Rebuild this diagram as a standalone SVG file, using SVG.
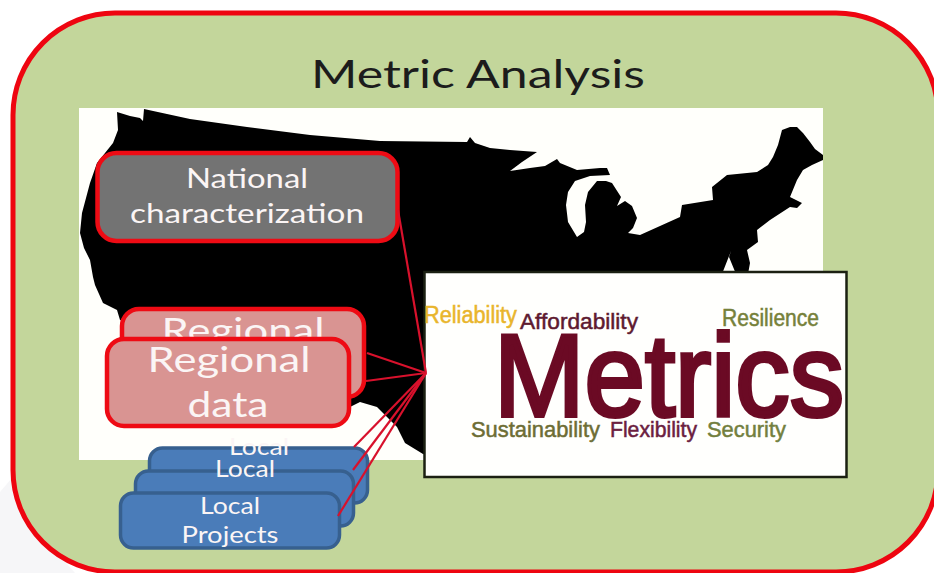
<svg xmlns="http://www.w3.org/2000/svg" width="934" height="573" viewBox="0 0 934 573">
<defs><filter id="soft" x="-2%" y="-2%" width="104%" height="104%"><feGaussianBlur stdDeviation="0.7"/></filter></defs>
<style>
.lb{font-family:"Lato","Open Sans","Liberation Sans",sans-serif;fill:#fbf5f5;text-anchor:middle}
.w{font-family:"Liberation Sans",Arial,sans-serif;stroke-width:.5}
.red{stroke:#ee0b14;stroke-width:4.5}
.reg{fill:#d99492}
.blue{fill:#4a7cb9;stroke:#37608f;stroke-width:3.5}
.c{stroke:#d8112c;stroke-width:2.2;fill:none}
</style>
<rect width="934" height="573" fill="#ffffff"/>
<polygon points="0,492 12,478 32,525 75,573 0,573" fill="#f6f6f8"/>
<g id="panel">
<rect x="13" y="13" width="925" height="559" rx="102" ry="102" fill="#c3d69b" stroke="#ee0510" stroke-width="5"/>
<text x="478" y="88" font-family="Lato,'Open Sans',sans-serif" font-size="39" fill="#1c1c1c" text-anchor="middle" textLength="334" lengthAdjust="spacingAndGlyphs">Metric Analysis</text>
</g>
<g id="map">
<rect x="79" y="108" width="744" height="352" fill="#fffffb"/>
<path fill="#000" filter="url(#soft)" d="M117,112 L130,116 L140,118 L143,121 L144,109 L190,119 L247,127 L310,135 L380,141 L467,142 L470,137 L475,143 L490,148 L510,150 L537,152 L522,162 L510,171 L530,168 L545,166 L557,159 L560,163 L577,170 L600,168 L607,168 L610,175 L590,176 L575,181 L568,192 L566,205 L568,222 L577,237 L584,232 L586,222 L585,205 L588,192 L597,181 L606,181 L612,183 L621,197 L617,206 L625,201 L632,206 L637,218 L633,228 L628,233 L640,235 L660,226 L680,217 L682,205 L713,200 L712,187 L727,175 L757,172 L768,165 L773,157 L778,145 L782,130 L790,127 L797,127 L803,133 L810,142 L815,149 L823,155 L823,160 L812,165 L803,170 L797,180 L790,197 L802,203 L797,208 L790,207 L770,220 L757,230 L758,242 L747,250 L750,263 L748,274 L736,274 L729,257 L731,251 L722,274 L430,274 L430,456 L423,454 L405,443 L397,427 L377,407 L360,402 L350,407 L120,320 L117,310 L103,303 L95,285 L93,277 L90,260 L84,248 L80,233 L82,213 L90,183 L97,163 L113,143 L118,130 Z"/>
</g>
<g id="metrics">
<rect x="424.500" y="272" width="422" height="205" fill="#fffffd" stroke="#1b2012" stroke-width="2.500"/>
<text class="w" x="424" y="323" font-size="23" fill="#e9b52c" stroke="#e9b52c" textLength="93" lengthAdjust="spacingAndGlyphs">Reliability</text>
<text class="w" x="520" y="329" font-size="22" fill="#5e1a30" stroke="#5e1a30" textLength="118" lengthAdjust="spacingAndGlyphs">Affordability</text>
<text class="w" x="722" y="326" font-size="23" fill="#76813a" stroke="#76813a" textLength="97" lengthAdjust="spacingAndGlyphs">Resilience</text>
<text class="w" x="494" y="416" font-size="116" fill="#6b0a24" stroke="#6b0a24" style="stroke-width:4" textLength="350" lengthAdjust="spacingAndGlyphs">Metrics</text>
<text class="w" x="471" y="437" font-size="22" fill="#6d6d34" stroke="#6d6d34" textLength="129" lengthAdjust="spacingAndGlyphs">Sustainability</text>
<text class="w" x="610" y="437" font-size="22" fill="#6b2040" stroke="#6b2040" textLength="87" lengthAdjust="spacingAndGlyphs">Flexibility</text>
<text class="w" x="707" y="437" font-size="22" fill="#737f3e" stroke="#737f3e" textLength="79" lengthAdjust="spacingAndGlyphs">Security</text>
</g>
<g id="national">
<rect class="red" x="97.500" y="153" width="300" height="88" rx="19" fill="#737373"/>
<text class="lb" x="247" y="188" font-size="27" textLength="122" lengthAdjust="spacingAndGlyphs">National</text>
<text class="lb" x="247" y="223" font-size="27" textLength="234" lengthAdjust="spacingAndGlyphs">characterization</text>
</g>
<g id="regional-back">
<rect class="red reg" x="122" y="309" width="242" height="88" rx="17"/>
<text class="lb" x="243" y="343" font-size="35" textLength="163" lengthAdjust="spacingAndGlyphs">Regional</text>
</g>
<g id="regional-front">
<rect class="red reg" x="107" y="339" width="242" height="87" rx="17"/>
<text class="lb" x="229" y="372" font-size="35" textLength="163" lengthAdjust="spacingAndGlyphs">Regional</text>
<text class="lb" x="228" y="417" font-size="35" textLength="81" lengthAdjust="spacingAndGlyphs">data</text>
</g>
<g id="local-back">
<rect class="blue" x="149.500" y="448" width="218" height="55" rx="13"/>
<text class="lb" x="259" y="455" font-size="24" textLength="60" lengthAdjust="spacingAndGlyphs">Local</text>
</g>
<g id="local-middle">
<rect class="blue" x="135.500" y="471" width="218" height="55" rx="13"/>
<text class="lb" x="245" y="477" font-size="24" textLength="60" lengthAdjust="spacingAndGlyphs">Local</text>
</g>
<g id="local-front">
<rect class="blue" x="120.500" y="493" width="219" height="55" rx="13"/>
<text class="lb" x="230" y="514" font-size="24" textLength="60" lengthAdjust="spacingAndGlyphs">Local</text>
<text class="lb" x="230" y="543" font-size="24" textLength="97" lengthAdjust="spacingAndGlyphs">Projects</text>
</g>
<g id="connectors">
<path class="c" d="M398,210 L426,373"/>
<path class="c" d="M367,353 L426,373"/>
<path class="c" d="M366,381 L426,373"/>
<path class="c" d="M354,447 L426,373"/>
<path class="c" d="M353,470 L426,373"/>
<path class="c" d="M338,516 L426,373"/>
</g>
</svg>
